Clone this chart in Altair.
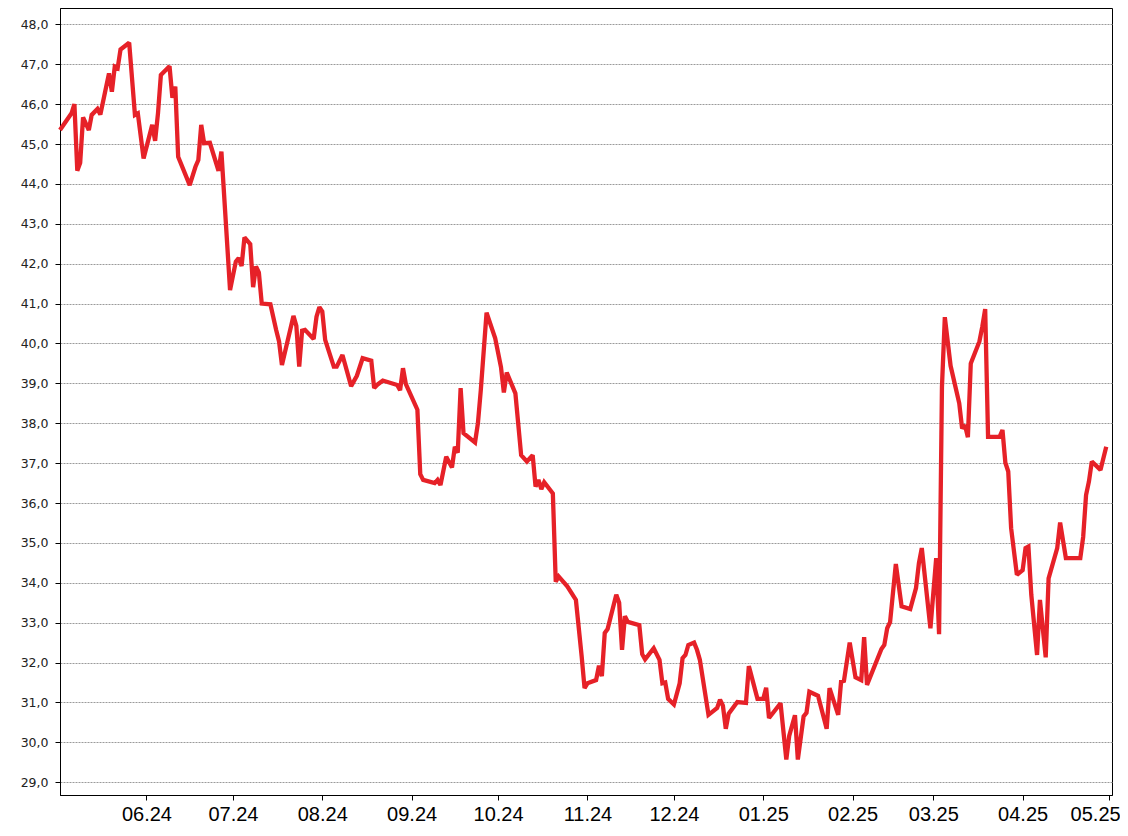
import altair as alt
import pandas as pd

dates = [
    "2024-05-02", "2024-05-06", "2024-05-07", "2024-05-08", "2024-05-09", "2024-05-10",
    "2024-05-12", "2024-05-13", "2024-05-15", "2024-05-16", "2024-05-19", "2024-05-20",
    "2024-05-21", "2024-05-22", "2024-05-23", "2024-05-26", "2024-05-28", "2024-05-29",
    "2024-05-31", "2024-06-03", "2024-06-04", "2024-06-05", "2024-06-06", "2024-06-09",
    "2024-06-10", "2024-06-11", "2024-06-12", "2024-06-16", "2024-06-18", "2024-06-19",
    "2024-06-20", "2024-06-21", "2024-06-23", "2024-06-26", "2024-06-27", "2024-06-30",
    "2024-07-02", "2024-07-03", "2024-07-04", "2024-07-05", "2024-07-07", "2024-07-08",
    "2024-07-09", "2024-07-10", "2024-07-11", "2024-07-14", "2024-07-16", "2024-07-17",
    "2024-07-18", "2024-07-22", "2024-07-23", "2024-07-24", "2024-07-25", "2024-07-26",
    "2024-07-29", "2024-07-30", "2024-07-31", "2024-08-01", "2024-08-02", "2024-08-05",
    "2024-08-06", "2024-08-08", "2024-08-11", "2024-08-13", "2024-08-15", "2024-08-18",
    "2024-08-19", "2024-08-20", "2024-08-22", "2024-08-27", "2024-08-28", "2024-08-29",
    "2024-08-30", "2024-09-03", "2024-09-04", "2024-09-05", "2024-09-09", "2024-09-10",
    "2024-09-11", "2024-09-13", "2024-09-15", "2024-09-16", "2024-09-17", "2024-09-18",
    "2024-09-19", "2024-09-23", "2024-09-24", "2024-09-25", "2024-09-27", "2024-09-30",
    "2024-10-02", "2024-10-03", "2024-10-04", "2024-10-07", "2024-10-09", "2024-10-11",
    "2024-10-13", "2024-10-14", "2024-10-15", "2024-10-16", "2024-10-17", "2024-10-20",
    "2024-10-21", "2024-10-22", "2024-10-25", "2024-10-28", "2024-10-30", "2024-10-31",
    "2024-11-01", "2024-11-04", "2024-11-05", "2024-11-06", "2024-11-07", "2024-11-08",
    "2024-11-11", "2024-11-12", "2024-11-13", "2024-11-14", "2024-11-15", "2024-11-19",
    "2024-11-20", "2024-11-21", "2024-11-24", "2024-11-26", "2024-11-27", "2024-11-28",
    "2024-11-29", "2024-12-01", "2024-12-03", "2024-12-04", "2024-12-05", "2024-12-06",
    "2024-12-08", "2024-12-09", "2024-12-10", "2024-12-13", "2024-12-16", "2024-12-17",
    "2024-12-18", "2024-12-19", "2024-12-20", "2024-12-23", "2024-12-26", "2024-12-27",
    "2024-12-30", "2025-01-01", "2025-01-02", "2025-01-03", "2025-01-07", "2025-01-09",
    "2025-01-10", "2025-01-12", "2025-01-13", "2025-01-15", "2025-01-16", "2025-01-17",
    "2025-01-20", "2025-01-23", "2025-01-24", "2025-01-27", "2025-01-28", "2025-01-29",
    "2025-01-31", "2025-02-02", "2025-02-04", "2025-02-05", "2025-02-06", "2025-02-11",
    "2025-02-12", "2025-02-13", "2025-02-14", "2025-02-16", "2025-02-18", "2025-02-21",
    "2025-02-23", "2025-02-24", "2025-02-25", "2025-02-28", "2025-03-02", "2025-03-03",
    "2025-03-04", "2025-03-05", "2025-03-07", "2025-03-10", "2025-03-11", "2025-03-12",
    "2025-03-13", "2025-03-14", "2025-03-17", "2025-03-18", "2025-03-19", "2025-03-20",
    "2025-03-24", "2025-03-25", "2025-03-26", "2025-03-27", "2025-03-28", "2025-03-30",
    "2025-04-01", "2025-04-02", "2025-04-03", "2025-04-04", "2025-04-06", "2025-04-07",
    "2025-04-09", "2025-04-10", "2025-04-13", "2025-04-14", "2025-04-16", "2025-04-21",
    "2025-04-22", "2025-04-23", "2025-04-24", "2025-04-25", "2025-04-28", "2025-04-30",
]

values = [
    45.35, 45.77, 46.00, 44.33, 44.53, 45.67,
    45.35, 45.73, 45.88, 45.74, 46.77, 46.31,
    46.94, 46.90, 47.37, 47.54, 45.73, 45.77,
    44.64, 45.48, 45.08, 45.77, 46.73, 46.95,
    46.16, 46.44, 44.68, 43.97, 44.43, 44.60,
    45.48, 45.02, 45.03, 44.33, 44.81, 41.34,
    42.05, 42.14, 41.94, 42.66, 42.49, 41.41,
    41.93, 41.78, 41.00, 40.98, 40.34, 40.05,
    39.46, 40.69, 40.44, 39.42, 40.32, 40.34,
    40.11, 40.67, 40.91, 40.80, 40.09, 39.42,
    39.42, 39.71, 38.93, 39.19, 39.63, 39.57,
    38.88, 38.96, 39.07, 38.96, 38.83, 39.38,
    38.98, 38.34, 36.72, 36.58, 36.50, 36.58,
    36.45, 37.16, 36.89, 37.41, 37.26, 38.88,
    37.75, 37.52, 38.00, 38.83, 40.77, 40.13,
    39.41, 38.77, 39.27, 38.75, 37.20, 37.04,
    37.20, 36.41, 36.58, 36.35, 36.52, 36.24,
    34.03, 34.16, 33.91, 33.57, 32.15, 31.36,
    31.48, 31.56, 31.92, 31.66, 32.74, 32.84,
    33.70, 33.50, 32.32, 33.16, 33.02, 32.94,
    32.21, 32.08, 32.36, 32.07, 31.48, 31.50,
    31.09, 30.95, 31.48, 32.11, 32.19, 32.44,
    32.50, 32.32, 32.07, 30.69, 30.86, 31.07,
    30.92, 30.34, 30.72, 31.01, 30.99, 31.91,
    31.09, 31.09, 31.37, 30.61, 30.98, 29.57,
    30.16, 30.68, 29.57, 30.65, 30.74, 31.27,
    31.17, 30.34, 31.36, 30.69, 31.52, 31.54,
    32.50, 31.63, 31.56, 32.64, 31.44, 32.34,
    32.44, 32.86, 33.01, 34.47, 33.41, 33.34,
    33.87, 34.49, 34.87, 32.86, 34.62, 32.71,
    38.91, 40.66, 39.44, 38.50, 37.87, 37.95,
    37.65, 39.50, 40.05, 40.42, 40.86, 37.66,
    37.66, 37.83, 37.01, 36.79, 35.37, 34.20,
    34.32, 34.87, 34.91, 33.70, 32.19, 33.57,
    32.13, 34.11, 34.87, 35.51, 34.62, 34.62,
    35.15, 36.20, 36.54, 37.04, 36.83, 37.41,
]

y_ticks = [29, 30, 31, 32, 33, 34, 35, 36, 37, 38, 39, 40, 41, 42, 43, 44, 45, 46, 47, 48]
month_ticks = [(2024, 6), (2024, 7), (2024, 8), (2024, 9), (2024, 10), (2024, 11),
               (2024, 12), (2025, 1), (2025, 2), (2025, 3), (2025, 4), (2025, 5)]

df = pd.DataFrame({"date": dates, "value": values})

x_values = [alt.DateTime(year=y, month=m, date=1, utc=True) for y, m in month_ticks]

chart = alt.Chart(df).mark_line(
    color="#e62128", strokeWidth=4.3, strokeJoin="miter", strokeMiterLimit=2
).encode(
    x=alt.X(
        "date:T",
        scale=alt.Scale(
            type="utc",
            domain=[alt.DateTime(year=2024, month=5, date=2, utc=True),
                    alt.DateTime(year=2025, month=5, date=2, utc=True)],
            nice=False,
        ),
        axis=alt.Axis(
            values=x_values,
            labelExpr="utcFormat(datum.value, '%m.%y')",
            grid=False,
            title=None,
            domainColor="#000000",
            tickColor="#000000",
            tickSize=5,
            labelFontSize=20,
            labelFont="Liberation Sans",
            labelColor="#000000",
            labelPadding=4,
            labelFlush=False,
            labelOverlap=False,
            labelOffset={"condition": {"test": "datum.value >= 1746000000000", "value": -14},
                         "value": 0},
        ),
    ),
    y=alt.Y(
        "value:Q",
        scale=alt.Scale(domain=[28.68, 48.41], nice=False, zero=False),
        axis=alt.Axis(
            values=y_ticks,
            labelExpr="replace(format(datum.value, '.1f'), '.', ',')",
            grid=True,
            gridColor="#9a9a9a",
            gridDash=[2, 1],
            gridWidth=1,
            title=None,
            domainColor="#000000",
            tickColor="#000000",
            tickSize=5,
            labelFontSize=12.5,
            labelFont="DejaVu Sans",
            labelColor="#222222",
            labelPadding=7,
            labelOverlap=False,
        ),
    ),
).properties(
    width=1052,
    height=787,
    background="#ffffff",
    autosize=alt.AutoSizeParams(type="none"),
    padding={"left": 52, "top": 0, "right": 8, "bottom": 30},
).configure_view(
    stroke="#000000", strokeWidth=1
)

chart.save("out.html", embed_options={"renderer": "svg", "actions": False})
